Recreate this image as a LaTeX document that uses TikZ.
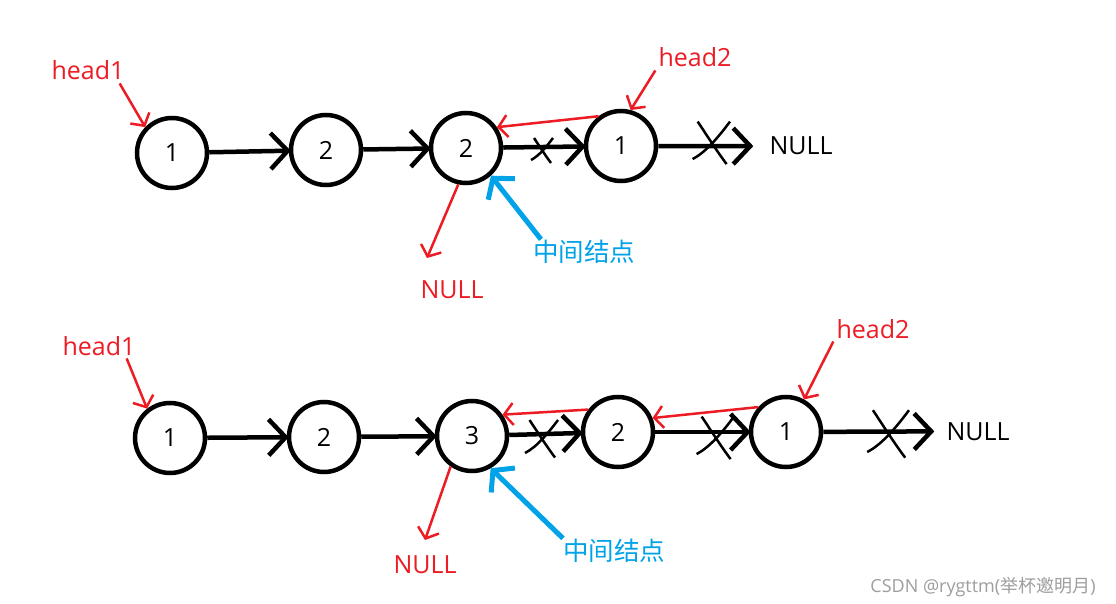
\documentclass[tikz,border=0pt]{standalone}
\usepackage{fontspec}
\setmainfont{Open Sans}
\newfontfamily\cjk{Noto Sans CJK SC}
\usetikzlibrary{arrows.meta}
\definecolor{paintred}{RGB}{237,28,36}
\definecolor{paintblue}{RGB}{0,162,232}
\tikzset{cut/.pic={
  \draw[line width=2.5pt] (-9,-12) .. controls (-3,-3) and (2,5) .. (8,13);
  \draw[line width=2.5pt] (-12,10) .. controls (-4,6) and (4,-4) .. (10,-12);
}}
\begin{document}
\begin{tikzpicture}[x=1pt, y=-1pt,
  item/.style = {circle, draw, line width=4.5pt, minimum size=70pt, inner sep=0pt, font=\fontsize{25}{30}\selectfont},
  link/.style = {line width=4.5pt, shorten >=-2pt, -{Straight Barb[length=17pt,width=36pt]}},
  blacktext/.style = {inner sep=0pt, anchor=base, font=\fontsize{25}{30}\selectfont},
  redtext/.style = {inner sep=3pt, anchor=base, text=paintred, font=\fontsize{25}{30}\selectfont},
  bluetext/.style = {inner sep=0pt, anchor=base west, text=paintblue, font=\cjk\fontsize{25.5}{30}\selectfont},
  redptr/.style = {draw=paintred, line width=2.5pt, -{Straight Barb[length=9pt,width=22pt]}},
  blueptr/.style = {draw=paintblue, line width=5pt, -{Straight Barb[length=14pt,width=34pt]}}]

\useasboundingbox[fill=white] (0,0) rectangle (1116,604);

\node[item] (a1) at (172,153) {1};
\node[item] (a2) at (326,150) {2};
\node[item] (a3) at (466,148) {2};
\node[item] (a4) at (621,146) {1};
\node[blacktext] (nulla) at (801,155) {NULL};

\draw[link] (a1) -- (a2);
\draw[link] (a2) -- (a3);
\draw[link] (a3) -- (a4);
\draw[link, shorten >=16pt] (a4) -- (nulla);
\pic at (543,150) {cut};
\pic[scale=1.7] at (713,142) {cut};

\node[redtext] (h1a) at (88,80) {head1};
\node[redtext] (h2a) at (695,67) {head2};
\node[redtext] (nullra) at (452,298) {NULL};
\coordinate (enda) at (427,258);
\node[bluetext] (mida) at (533,261) {中间结点};

\draw[redptr] ([xshift=-8pt]h1a.south east) -- (a1.136);
\draw[redptr] (h2a.south west) -- (a4.75);
\draw[redptr] (a4.127) -- (a3.34);
\draw[redptr] (a3.258) -- (enda);
\draw[blueptr] ([xshift=8pt]mida.north west) -- (a3.-48);

\node[item] (b1) at (170,438) {1};
\node[item] (b2) at (324,437) {2};
\node[item] (b3) at (472,436) {3};
\node[item] (b4) at (618,432) {2};
\node[item] (b5) at (786,432) {1};
\node[blacktext] (nullb) at (978,440) {NULL};

\draw[link] (b1) -- (b2);
\draw[link] (b2) -- (b3);
\draw[link] (b3) -- (b4);
\draw[link] (b4) -- (b5);
\draw[link, shorten >=12pt] (b5) -- (nullb);
\pic[scale=1.5] at (543,438) {cut};
\pic[scale=1.7] at (717,437) {cut};
\pic[scale=1.9] at (890,433) {cut};

\node[redtext] (h1b) at (99,355) {head1};
\node[redtext] (h2b) at (873,338) {head2};
\node[redtext] (nullrb) at (425,573) {NULL};
\coordinate (endb) at (425,540);
\node[bluetext] (midb) at (563,560) {中间结点};

\draw[redptr] ([xshift=-12pt]h1b.south east) -- (b1.128);
\draw[redptr] (h2b.south west) -- (b5.61);
\draw[redptr] (b5.138) -- (b4.22);
\draw[redptr] (b4.143) -- (b3.35);
\draw[redptr] (b3.235) -- (endb);
\draw[blueptr] (midb.north west) -- (b3.-60);

\node[anchor=base, text=black!38, font=\fontsize{18}{22}\selectfont] (mark) at (983,592) {CSDN @rygttm({\cjk 举杯邀明月})};

\end{tikzpicture}
\end{document}
